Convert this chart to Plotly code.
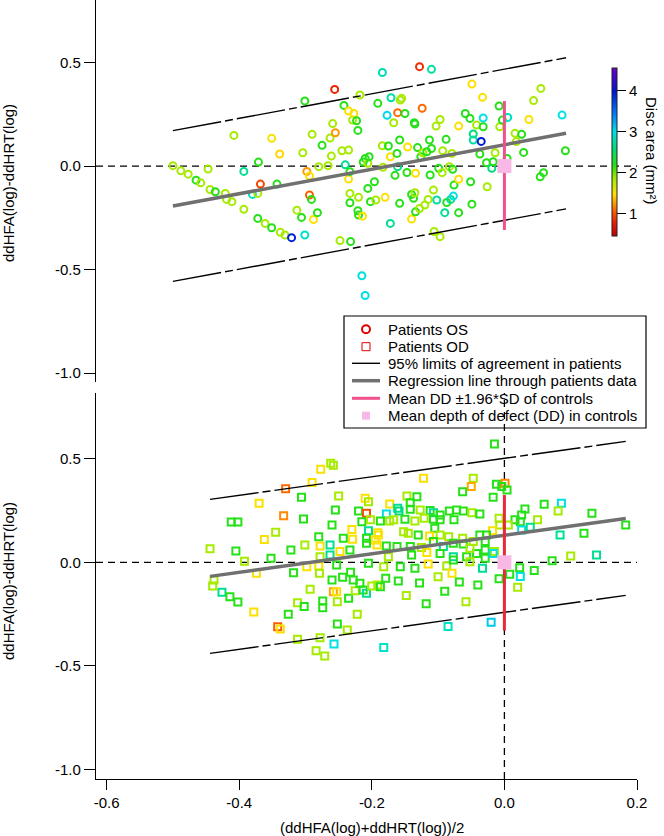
import plotly.graph_objects as go

# ---------------- data ----------------
# Top panel: Patients OS (circles)
os_x = [-0.500, -0.488, -0.477, -0.465, -0.458, -0.447, -0.444, -0.436, -0.421, -0.419,
        -0.411, -0.408, -0.393, -0.393, -0.380, -0.372, -0.371, -0.368, -0.372, -0.361,
        -0.351, -0.351, -0.343, -0.339, -0.338, -0.331, -0.321, -0.313, -0.306, -0.304,
        -0.301, -0.298, -0.294, -0.294, -0.291, -0.290, -0.288, -0.282, -0.280, -0.275,
        -0.266, -0.263, -0.261, -0.259, -0.256, -0.255, -0.245, -0.242, -0.240, -0.235,
        -0.235, -0.233, -0.233, -0.233, -0.235, -0.229, -0.227, -0.223, -0.221, -0.221,
        -0.220, -0.218, -0.220, -0.214, -0.213, -0.210, -0.206, -0.206, -0.204, -0.202,
        -0.196, -0.194, -0.191, -0.184, -0.184, -0.183, -0.180, -0.177, -0.175, -0.172,
        -0.171, -0.172, -0.167, -0.165, -0.162, -0.161, -0.161, -0.158, -0.158, -0.157,
        -0.155, -0.150, -0.147, -0.146, -0.140, -0.140, -0.137, -0.136, -0.135, -0.134,
        -0.135, -0.134, -0.131, -0.128, -0.128, -0.126, -0.124, -0.123, -0.120, -0.117,
        -0.115, -0.113, -0.112, -0.110, -0.110, -0.107, -0.106, -0.103, -0.102, -0.099,
        -0.097, -0.097, -0.094, -0.093, -0.090, -0.088, -0.087, -0.083, -0.081, -0.079,
        -0.078, -0.077, -0.076, -0.069, -0.069, -0.069, -0.059, -0.052, -0.051, -0.049,
        -0.049, -0.047, -0.047, -0.042, -0.037, -0.035, -0.033, -0.032, -0.032, -0.027,
        -0.026, -0.019, -0.017, -0.014, -0.008, -0.007, -0.003, 0.004, 0.005, 0.016,
        0.018, 0.026, 0.029, 0.037, 0.044, 0.054, 0.055, 0.059, 0.087, 0.092,
        -0.301, -0.248, -0.232, -0.215, -0.210]
os_y = [0.002, -0.023, -0.039, -0.068, -0.081, -0.014, -0.113, -0.124, -0.132, -0.161,
        -0.172, 0.148, -0.026, -0.209, -0.137, -0.132, 0.019, -0.087, -0.253, -0.277,
        -0.298, 0.134, -0.087, 0.058, -0.320, -0.333, -0.346, -0.213, -0.248, 0.064,
        0.314, -0.026, -0.048, -0.140, -0.161, 0.153, -0.258, -0.225, -0.003, 0.100,
        0.002, 0.135, 0.048, 0.205, 0.370, 0.161, 0.074, 0.293, 0.006, 0.077,
        -0.063, -0.027, -0.132, -0.177, 0.266, 0.222, 0.254, 0.219, 0.172, -0.216,
        -0.151, 0.343, -0.237, -0.242, 0.019, 0.037, 0.013, -0.108, 0.045, -0.172,
        -0.076, -0.164, 0.303, 0.098, 0.452, -0.006, -0.151, 0.245, 0.097, 0.045,
        0.330, -0.277, 0.209, -0.045, 0.061, -0.003, 0.258, 0.126, -0.180, 0.319,
        0.327, 0.254, -0.031, 0.092, -0.137, -0.256, -0.156, 0.209, 0.203, -0.035,
        -0.129, -0.221, 0.089, 0.480, -0.205, 0.045, 0.279, 0.064, -0.188, 0.069,
        -0.161, 0.126, -0.043, 0.467, 0.085, -0.116, -0.316, 0.193, -0.164, -0.011,
        0.225, -0.341, -0.032, 0.074, -0.225, 0.129, -0.176, -0.003, -0.161, 0.061,
        -0.016, -0.145, -0.092, 0.193, -0.225, -0.064, 0.254, 0.230, -0.076, 0.396,
        -0.184, 0.155, 0.126, 0.198, 0.058, 0.119, 0.332, 0.232, 0.190, 0.016,
        -0.100, -0.011, 0.021, 0.064, 0.290, 0.190, 0.222, 0.037, 0.235, 0.158,
        0.118, 0.153, 0.066, 0.225, 0.316, -0.052, 0.375, -0.032, 0.246, 0.074,
        -0.333, -0.360, -0.365, -0.530, -0.625]
os_disc = [1.85, 1.85, 1.85, 2.2, 1.85, 1.85, 1.85, 2.2, 1.85, 1.85,
           1.85, 1.85, 2.7, 1.85, 2.85, 1.85, 2.2, 0.95, 2.2, 1.85,
           2.2, 1.5, 2.2, 1.45, 1.85, 1.85, 3.9, 1.85, 2.2, 1.85,
           2.2, 1.25, 1.5, 1.05, 2.2, 1.85, 1.5, 2.2, 1.85, 2.2,
           1.85, 1.85, 1.85, 1.85, 0.8, 1.25, 1.85, 2.2, 2.7, 1.85,
           1.5, 2.2, 1.85, 2.2, 1.5, 1.85, 1.5, 2.2, 2.2, 2.2,
           1.85, 1.85, 2.2, 1.5, 2.2, 2.2, 1.85, 2.2, 2.2, 2.2,
           2.2, 1.85, 2.2, 1.85, 2.8, 1.85, 1.5, 3.05, 2.2, 1.5,
           2.75, 2.7, 1.85, 2.2, 2.2, 2.6, 1.1, 2.2, 2.2, 1.85,
           1.85, 2.2, 2.2, 1.5, 2.2, 1.5, 2.2, 2.2, 2.2, 1.5,
           1.85, 2.2, 2.2, 0.85, 1.85, 2.2, 1.1, 1.85, 1.85, 2.2,
           1.85, 2.2, 2.2, 2.75, 2.2, 1.85, 1.85, 1.85, 2.75, 2.2,
           1.85, 1.85, 1.85, 1.85, 2.7, 2.2, 2.2, 1.85, 2.7, 1.85,
           2.2, 3.0, 2.2, 1.5, 2.2, 1.5, 2.2, 2.2, 2.2, 1.5,
           2.2, 2.6, 2.75, 1.85, 2.2, 3.95, 1.5, 3.0, 2.2, 2.2,
           1.85, 2.6, 2.2, 1.85, 2.2, 1.85, 2.2, 2.2, 2.85, 1.85,
           1.85, 2.2, 2.2, 1.5, 1.85, 2.2, 1.85, 2.2, 3.0, 2.2,
           2.9, 1.85, 2.2, 2.95, 3.0]

# Bottom panel: Patients OD (squares)
od_x = [-0.015, -0.277, -0.262, -0.258, -0.290, -0.122, -0.047, -0.050, -0.063, -0.012,
        0.001, -0.004, 0.004, -0.017, -0.306, -0.250, -0.210, -0.205, -0.173, -0.147,
        -0.132, -0.142, 0.060, 0.086, 0.081, 0.132, -0.255, -0.220, -0.208, -0.178,
        -0.161, -0.159, -0.142, -0.127, -0.112, -0.107, -0.097, -0.083, -0.072, -0.062,
        -0.049, -0.037, 0.031, 0.026, 0.016, 0.024, 0.050, -0.303, -0.215, -0.202,
        -0.187, -0.173, -0.167, -0.150, -0.135, -0.121, -0.107, -0.097, -0.076, -0.008,
        -0.007, 0.006, -0.260, -0.230, -0.205, -0.191, -0.105, -0.018, 0.026, 0.039,
        -0.280, -0.243, -0.229, -0.208, -0.195, -0.190, -0.152, -0.145, -0.130, -0.113,
        -0.097, -0.084, -0.063, -0.037, -0.027, -0.301, -0.278, -0.263, -0.248, -0.233,
        -0.208, -0.192, -0.178, -0.162, -0.142, -0.125, -0.107, -0.092, -0.077, -0.062,
        -0.047, -0.029, -0.278, -0.263, -0.175, -0.140, -0.117, -0.097, -0.077, -0.057,
        -0.042, -0.029, -0.015, -0.052, -0.029, -0.017, 0.084, 0.139, 0.072, 0.023,
        -0.298, -0.280, -0.253, -0.205, -0.182, -0.157, -0.135, -0.115, -0.087, -0.077,
        -0.052, -0.033, 0.024, 0.008, -0.079,
        -0.440, -0.426, -0.414, -0.402, -0.374, -0.378, -0.342, -0.338, -0.326, -0.312,
        -0.302, -0.312, -0.293, -0.284, -0.271, -0.278, -0.279, -0.274, -0.274, -0.260,
        -0.258, -0.253, -0.252, -0.252, -0.244, -0.237, -0.235, -0.232, -0.257, -0.228,
        -0.225, -0.222, -0.218, -0.213, -0.208, -0.200, -0.191, -0.187, -0.182, -0.179,
        -0.444, -0.438, -0.412, -0.402, -0.405, -0.392, -0.370, -0.362, -0.352, -0.345,
        -0.330, -0.333, -0.322, -0.318,
        -0.160, -0.148, -0.128, -0.118, -0.100, -0.090, -0.085, -0.068, -0.058, -0.040,
        -0.020, -0.008, 0.020, 0.045, 0.100, 0.120, 0.183]
od_y = [0.572, 0.449, 0.478, 0.469, 0.385, 0.406, 0.406, 0.366, 0.341, 0.377,
        0.382, 0.366, 0.349, 0.314, 0.314, 0.320, 0.309, 0.293, 0.282, 0.320,
        0.317, 0.288, 0.280, 0.285, 0.248, 0.237, 0.253, 0.248, 0.237, 0.233,
        0.261, 0.248, 0.256, 0.253, 0.250, 0.240, 0.229, 0.248, 0.253, 0.248,
        0.240, 0.233, 0.258, 0.229, 0.205, 0.196, 0.205, 0.209, 0.196, 0.205,
        0.200, 0.200, 0.205, 0.208, 0.200, 0.213, 0.208, 0.205, 0.205, 0.213,
        0.180, 0.180, 0.180, 0.159, 0.153, 0.143, 0.164, 0.153, 0.156, 0.169,
        0.124, 0.116, 0.111, 0.116, 0.108, 0.132, 0.148, 0.140, 0.132, 0.127,
        0.132, 0.124, 0.116, 0.132, 0.132, 0.084, 0.079, 0.084, 0.052, 0.060,
        0.092, 0.084, 0.079, 0.076, 0.076, 0.072, 0.100, 0.076, 0.092, 0.089,
        0.100, 0.100, 0.027, 0.035, 0.027, 0.035, 0.047, 0.043, 0.027, 0.027,
        0.043, 0.060, 0.052, 0.068, 0.019, 0.043, 0.132, 0.035, 0.008, -0.026,
        -0.021, -0.018, -0.013, -0.005, -0.021, -0.021, -0.029, -0.008, -0.018, 0.011,
        0.003, -0.029, -0.069, -0.058, -0.053,
        -0.114, -0.145, -0.167, -0.192, -0.053, -0.240, -0.311, -0.322, -0.251, -0.195,
        -0.214, -0.372, -0.130, -0.427, -0.453, -0.364, -0.053, -0.187, -0.219, -0.085,
        -0.142, -0.142, -0.190, -0.298, -0.072, -0.327, -0.174, -0.048, -0.395, -0.085,
        -0.138, -0.251, -0.101, -0.134, -0.150, -0.114, -0.110, -0.118, -0.412, -0.077,
        0.065, -0.085, 0.195, 0.195, 0.055, 0.005, 0.285, 0.110, 0.020, 0.145,
        0.355, 0.225, 0.060, -0.050,
        -0.090, -0.160, -0.100, -0.200, -0.070, -0.140, -0.310, -0.095, -0.190, -0.110,
        -0.290, -0.080, -0.120, -0.040, 0.030, 0.140, 0.180]
od_disc = [2.2, 1.5, 1.85, 1.85, 1.5, 1.5, 1.85, 1.3, 2.2, 2.2,
           1.2, 2.2, 2.2, 2.2, 2.2, 1.85, 1.5, 1.85, 1.5, 1.85,
           2.2, 2.2, 2.2, 3.0, 1.85, 2.2, 2.2, 2.2, 1.0, 3.0,
           2.7, 2.6, 2.2, 1.85, 2.2, 2.7, 2.2, 2.2, 2.2, 2.2,
           1.85, 2.2, 2.2, 2.2, 2.2, 2.2, 1.85, 2.2, 2.2, 1.85,
           2.2, 1.85, 1.85, 2.2, 1.85, 1.85, 2.2, 2.2, 2.2, 1.85,
           1.85, 1.85, 2.2, 1.5, 2.7, 1.5, 2.2, 1.5, 3.0, 2.7,
           2.2, 2.2, 1.5, 2.2, 1.5, 1.5, 1.85, 1.85, 2.2, 1.5,
           1.85, 1.85, 1.85, 2.2, 2.2, 1.85, 1.5, 2.7, 1.5, 2.2,
           2.2, 1.5, 2.2, 2.2, 2.2, 1.85, 2.2, 2.7, 2.2, 2.2,
           1.85, 2.2, 1.85, 2.7, 1.85, 2.2, 1.5, 2.2, 2.7, 2.2,
           2.2, 2.2, 1.85, 1.85, 2.2, 3.0, 2.7, 2.7, 2.2, 2.2,
           1.5, 1.5, 2.2, 2.2, 1.85, 2.2, 2.2, 1.5, 1.85, 2.2,
           1.85, 2.7, 3.0, 2.2, 1.5,
           1.85, 2.7, 2.2, 2.2, 1.5, 1.5, 1.05, 1.5, 2.2, 1.85,
           2.2, 1.85, 1.85, 1.85, 1.85, 1.85, 1.85, 2.2, 2.2, 2.2,
           1.3, 1.5, 1.85, 2.2, 2.2, 1.85, 2.2, 2.2, 3.0, 2.2,
           1.85, 1.85, 2.2, 2.2, 2.7, 1.85, 1.85, 2.2, 2.9, 2.2,
           1.85, 1.85, 2.2, 2.2, 2.2, 1.85, 1.5, 1.5, 2.2, 1.85,
           1.1, 1.2, 2.2, 2.2,
           2.2, 1.85, 2.2, 2.2, 1.85, 2.2, 2.9, 2.2, 1.85, 2.2,
           3.1, 2.2, 1.85, 2.2, 1.85, 2.2, 2.2]

# Regression line and 95% limits of agreement (end points)
os_fit_x = [-0.500, 0.093]
os_reg_y = [-0.193, 0.158]
os_upper_y = [0.171, 0.523]
os_lower_y = [-0.557, -0.207]
od_fit_x = [-0.444, 0.183]
od_reg_y = [-0.068, 0.212]
od_upper_y = [0.304, 0.584]
od_lower_y = [-0.440, -0.160]

# Controls: mean depth of defect and +-1.96 SD
ctrl_mean_x = [0.0]
ctrl_mean_y = [0.0]
ctrl_os_sd_y = [-0.309, 0.314]
ctrl_od_sd_y = [-0.330, 0.325]

x_ticks = [-0.6, -0.4, -0.2, 0.0, 0.2]
x_tick_text = ['-0.6', '-0.4', '-0.2', '0.0', '0.2']
y_ticks = [-1.0, -0.5, 0.0, 0.5]
y_tick_text = ['-1.0', '-0.5', '0.0', '0.5']
cbar_ticks = [1, 2, 3, 4]

legend_labels = ['Patients OS', 'Patients OD', '95% limits of agreement in patients',
                 'Regression line through patients data', 'Mean DD \u00b11.96*SD of controls',
                 'Mean depth of defect (DD) in controls']

# ---------------- styles ----------------
FONT = 'Liberation Sans, Arial, Helvetica, sans-serif'
LOA_DASH = '49px,4px,8px,4px'
ZERO_DASH = '7px,5px'
GRAY = '#707070'
PINK_TOP = '#f0508c'
PINK_BOT = '#e8283c'
PINK_SQ = '#f7b8e6'

colorscale = [
    [0.00, 'rgb(190,0,0)'],
    [0.08, 'rgb(235,30,0)'],
    [0.16, 'rgb(255,110,0)'],
    [0.25, 'rgb(255,225,0)'],
    [0.34, 'rgb(165,235,0)'],
    [0.42, 'rgb(40,225,20)'],
    [0.52, 'rgb(0,220,120)'],
    [0.62, 'rgb(0,225,230)'],
    [0.72, 'rgb(0,130,255)'],
    [0.86, 'rgb(0,20,210)'],
    [1.00, 'rgb(110,0,200)'],
]

fig = go.Figure()

# markers
fig.add_trace(go.Scatter(x=os_x, y=os_y, mode='markers', xaxis='x', yaxis='y',
                         marker=dict(symbol='circle-open', size=7, color=os_disc,
                                     coloraxis='coloraxis', line=dict(width=2)),
                         showlegend=False, hoverinfo='skip'))
fig.add_trace(go.Scatter(x=od_x, y=od_y, mode='markers', xaxis='x2', yaxis='y2',
                         marker=dict(symbol='square-open', size=7, color=od_disc,
                                     coloraxis='coloraxis', line=dict(width=2)),
                         showlegend=False, hoverinfo='skip'))

# lines
for xa, ya, fx, up, reg, lo, sd, pk in [
        ('x', 'y', os_fit_x, os_upper_y, os_reg_y, os_lower_y, ctrl_os_sd_y, PINK_TOP),
        ('x2', 'y2', od_fit_x, od_upper_y, od_reg_y, od_lower_y, ctrl_od_sd_y, PINK_BOT)]:
    for yy in (up, lo):
        fig.add_trace(go.Scatter(x=fx, y=yy, mode='lines', xaxis=xa, yaxis=ya,
                                 line=dict(color='black', width=1.4, dash=LOA_DASH),
                                 showlegend=False, hoverinfo='skip'))
    fig.add_trace(go.Scatter(x=fx, y=reg, mode='lines', xaxis=xa, yaxis=ya,
                             line=dict(color=GRAY, width=3.5),
                             showlegend=False, hoverinfo='skip'))
    fig.add_trace(go.Scatter(x=ctrl_mean_x * 2, y=sd, mode='lines', xaxis=xa, yaxis=ya,
                             line=dict(color=pk, width=3),
                             showlegend=False, hoverinfo='skip'))
    fig.add_trace(go.Scatter(x=ctrl_mean_x, y=ctrl_mean_y, mode='markers', xaxis=xa, yaxis=ya,
                             marker=dict(symbol='square', size=14, color=PINK_SQ),
                             showlegend=False, hoverinfo='skip'))

# zero reference lines
fig.add_shape(type='line', xref='x domain', yref='y', x0=0, x1=1, y0=0, y1=0,
              line=dict(color='black', width=1.3, dash=ZERO_DASH), layer='below')
fig.add_shape(type='line', xref='x2 domain', yref='y2', x0=0, x1=1, y0=0, y1=0,
              line=dict(color='black', width=1.3, dash=ZERO_DASH), layer='below')
fig.add_shape(type='line', xref='x2', yref='y2 domain', x0=0, x1=0, y0=0, y1=1,
              line=dict(color='black', width=1.3, dash=ZERO_DASH), layer='below')

# ---------------- legend (drawn in the plot) ----------------
PW, PH, L = 541.0, 779.0, 96.0
def px(X):
    return (X - L) / PW
def py(Y):
    return (PH - Y) / PH

fig.add_shape(type='rect', xref='paper', yref='paper', x0=px(344), x1=px(646),
              y0=py(428), y1=py(316), line=dict(color='black', width=1.2),
              fillcolor='rgba(0,0,0,0)')
rows = [329.3, 346.7, 363.3, 380.7, 398.3, 415.7]
sx = px(366)
fig.add_shape(type='circle', xref='paper', yref='paper', xsizemode='pixel', ysizemode='pixel',
              xanchor=sx, yanchor=py(rows[0]), x0=-4, x1=4, y0=-4, y1=4,
              line=dict(color='#e00000', width=2))
fig.add_shape(type='rect', xref='paper', yref='paper', xsizemode='pixel', ysizemode='pixel',
              xanchor=sx, yanchor=py(rows[1]), x0=-4, x1=4, y0=-4, y1=4,
              line=dict(color='#e00000', width=1))
fig.add_shape(type='line', xref='paper', yref='paper', x0=px(352), x1=px(380),
              y0=py(rows[2]), y1=py(rows[2]), line=dict(color='black', width=1.4))
fig.add_shape(type='line', xref='paper', yref='paper', x0=px(352), x1=px(380),
              y0=py(rows[3]), y1=py(rows[3]), line=dict(color=GRAY, width=3.5))
fig.add_shape(type='line', xref='paper', yref='paper', x0=px(352), x1=px(380),
              y0=py(rows[4]), y1=py(rows[4]), line=dict(color=PINK_TOP, width=3))
fig.add_shape(type='rect', xref='paper', yref='paper', xsizemode='pixel', ysizemode='pixel',
              xanchor=sx, yanchor=py(rows[5]), x0=-4, x1=4, y0=-4, y1=4,
              line=dict(width=0), fillcolor=PINK_SQ)

annotations = []
for r, lab in zip(rows, legend_labels):
    annotations.append(dict(x=px(386), y=py(r), xref='paper', yref='paper', text=lab,
                            showarrow=False, xanchor='left', yanchor='middle',
                            font=dict(size=15)))

# axis titles
annotations.append(dict(x=px(8), y=py(183), xref='paper', yref='paper',
                        text='ddHFA(log)-ddHRT(log)', textangle=-90, showarrow=False,
                        xanchor='center', yanchor='middle', font=dict(size=15)))
annotations.append(dict(x=px(8), y=py(581), xref='paper', yref='paper',
                        text='ddHFA(log)-ddHRT(log)', textangle=-90, showarrow=False,
                        xanchor='center', yanchor='middle', font=dict(size=15)))
annotations.append(dict(x=px(371.5), y=py(828), xref='paper', yref='paper',
                        text='(ddHFA(log)+ddHRT(log))/2', showarrow=False,
                        xanchor='center', yanchor='middle', font=dict(size=15)))
annotations.append(dict(x=px(652), y=py(151), xref='paper', yref='paper',
                        text='Disc area (mm\u00b2)', textangle=90, showarrow=False,
                        xanchor='center', yanchor='middle', font=dict(size=15)))

axis_common = dict(showgrid=False, zeroline=False, linecolor='black', linewidth=1.2,
                   tickcolor='black', tickwidth=1.2, tickfont=dict(size=15, color='black'))

fig.update_layout(
    width=664, height=836,
    margin=dict(l=96, r=27, t=0, b=57),
    paper_bgcolor='white', plot_bgcolor='white',
    font=dict(family=FONT, size=15, color='black'),
    showlegend=False,
    coloraxis=dict(
        colorscale=colorscale, cmin=0.46, cmax=4.56,
        colorbar=dict(x=px(612), xanchor='left', xref='paper', xpad=0, ypad=0,
                      y=py(152), yanchor='middle', len=168 / PH, lenmode='fraction',
                      thickness=5, thicknessmode='pixels', outlinewidth=1, outlinecolor='#222',
                      ticks='outside', ticklen=9, tickwidth=1, tickcolor='black',
                      tickvals=cbar_ticks, tickfont=dict(size=15, color='black'),
                      title=dict(text=''))),
    xaxis=dict(domain=[0, 1], range=[-0.616, 0.2], anchor='y', showline=False,
               showticklabels=False, ticks='', showgrid=False, zeroline=False),
    yaxis=dict(domain=[(PH - 382) / PH, 1], range=[-1.043, 0.802], anchor='x', showline=True,
               ticks='outside', ticklen=11, tickvals=y_ticks, ticktext=y_tick_text, **axis_common),
    xaxis2=dict(domain=[0, 1], range=[-0.616, 0.2], anchor='y2', showline=True,
                ticks='outside', ticklen=10, tickvals=x_ticks, ticktext=x_tick_text, **axis_common),
    yaxis2=dict(domain=[0, (PH - 393) / PH], range=[-1.047, 0.818], anchor='x2', showline=True,
                ticks='outside', ticklen=11, tickvals=y_ticks, ticktext=y_tick_text, **axis_common),
    annotations=annotations,
)

fig.write_html('out.html', config={'displayModeBar': False},
               post_script="document.body.style.margin='0';document.body.style.padding='0';"
                           "document.body.style.overflow='hidden';")
